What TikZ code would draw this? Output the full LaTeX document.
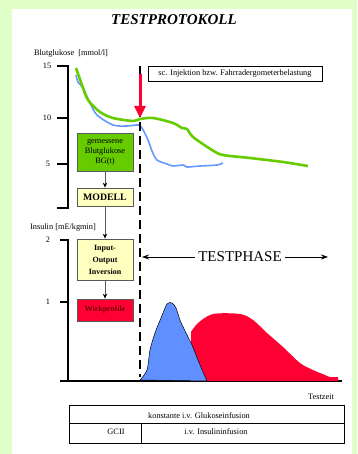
\documentclass[tikz,border=0pt]{standalone}
\usepackage{fontspec}
\setmainfont{Liberation Serif}
\usetikzlibrary{arrows.meta}
\definecolor{bggreen}{HTML}{E0FFC8}
\definecolor{bggcurve}{HTML}{66CC00}
\definecolor{bgblue}{HTML}{6699FF}
\definecolor{profblue}{HTML}{6090FF}
\definecolor{wirkred}{HTML}{FF0033}
\definecolor{boxyellow}{HTML}{FFFFC0}
\begin{document}
\begin{tikzpicture}[x=1pt,y=-1pt,
    lab/.style={font=\fontsize{8.3}{9}\selectfont},
    box/.style={draw=black!65, line width=0.8pt, minimum width=56pt, align=center,
      inner sep=1pt, font=\fontsize{8}{12}\selectfont\bfseries},
    flow/.style={draw=black!65, line width=0.8pt, -{Stealth[black,length=5pt,width=4.5pt]}},
    axis/.style={line width=1.3pt}]
    \fill[bggreen] (0,0) rectangle (357,454);
    \fill[white] (12,9) rectangle (352,454);
    \useasboundingbox (0,0) rectangle (357,454);
    \node[font=\fontsize{15}{17}\selectfont\bfseries\itshape] (title) at (174,20) {TESTPROTOKOLL};
    % glucose axis
    \node[lab] (glab) at (71,54) {Blutglukose~~[mmol/l]};
    \draw[axis] (57,66) -- (68,66) -- (68,208) -- (57,208);
    \draw[axis] (57,118) -- (68,118);
    \draw[axis] (57,164) -- (68,164);
    \node[lab] (g15) at (47,66) {15};
    \node[lab] (g10) at (47,118) {10};
    \node[lab] (g5) at (48,164) {5};
    % insulin axis
    \node[lab] (ilab) at (63,228) {Insulin [mE/kgmin]};
    \draw[axis] (60,240) -- (68,240) -- (68,381) -- (342,381);
    \draw[axis] (60,302) -- (68,302);
    \draw[axis] (60,381) -- (68,381);
    \node[lab] (i2) at (48,240) {2};
    \node[lab] (i1) at (48,302) {1};
    % Wirkprofile
    \fill[wirkred] (191,381) -- plot[smooth] coordinates {(191,332) (198,323) (213,314) (240,314) (253,320) (267,333) (283,347) (300,363) (313,370) (325,375) (330,377) (338,377)} -- (338,381) -- cycle;
    \filldraw[fill=profblue, draw=black, line width=0.5pt] plot[smooth] coordinates {(140,380) (147,370) (150,350) (155,333) (161,318) (167,304) (172,303) (176,308) (180,320) (186,333) (192,345) (198,360) (203,372) (207,381)} -- cycle;
    % Blutglukose
    \draw[bgblue, line width=1.6pt, line join=round] plot[smooth] coordinates {(76,75) (78,82) (83,88) (90,103) (97,115) (113,125) (127,126) (138,125) (142,128) (148,140) (152,151) (157,160) (167,164) (173,166) (183,165) (187,167) (200,166) (217,165) (223,163)};
    \draw[bggcurve, line width=2.6pt, line join=round] plot[smooth] coordinates {(76,68) (82,85) (88,100) (100,112) (113,118) (133,121) (140,119) (153,118) (173,123) (182,128) (187,129) (193,137) (212,150) (223,155) (250,158) (283,162) (308,166)};
    \draw[line width=2.6pt, dash pattern=on 9pt off 5pt] (140,66) -- (140,377);
    \draw[wirkred, line width=3pt, -{Triangle[length=12pt,width=11pt]}] (140,74) -- (140,118);
    \node[draw, line width=0.8pt, lab, minimum width=174pt, minimum height=15pt] (inj) at (235,73.5) {sc. Injektion bzw. Fahrradergometerbelastung};
    % blocks
    \node[box, fill=bggcurve, minimum height=38pt, font=\fontsize{8.3}{10}\selectfont] (meas) at (105,152) {gemessene\\Blutglukose\\BG(t)};
    \node[box, fill=boxyellow, minimum height=18pt, font=\fontsize{9.8}{11}\selectfont\bfseries] (model) at (105,197) {MODELL};
    \node[box, fill=boxyellow, minimum height=41pt] (inv) at (105,259.5) {Input-\\Output\\Inversion};
    \node[box, fill=wirkred, minimum height=22pt, text=red!45!black] (wirk) at (105,310) {Wirkprofile};
    \draw[flow] (meas) -- (model);
    \draw[flow] (model) -- (inv);
    \draw[flow] (inv) -- (wirk);
    % Testphase
    \node[font=\fontsize{15}{17}\selectfont] (phase) at (240,257) {TESTPHASE};
    \coordinate (phl) at (142,257);
    \coordinate (phr) at (328,257);
    \draw[line width=0.8pt, -{Stealth[length=7pt,width=5pt]}] (phase.west) -- (phl);
    \draw[line width=0.8pt, -{Stealth[length=7pt,width=5pt]}] (phase.east) -- (phr);
    \node[lab] (tz) at (321,397) {Testzeit};
    % infusion table
    \draw[line width=0.8pt] (69,405) rectangle (344,443);
    \draw[line width=0.8pt] (69,423) -- (344,423);
    \draw[line width=0.8pt] (141,423) -- (141,443);
    \node[lab] (gluk) at (199,415.5) {konstante i.v. Glukoseinfusion};
    \node[lab] (gcii) at (116,432) {GCII};
    \node[lab] (insu) at (216,432) {i.v. Insulininfusion};
\end{tikzpicture}
\end{document}
